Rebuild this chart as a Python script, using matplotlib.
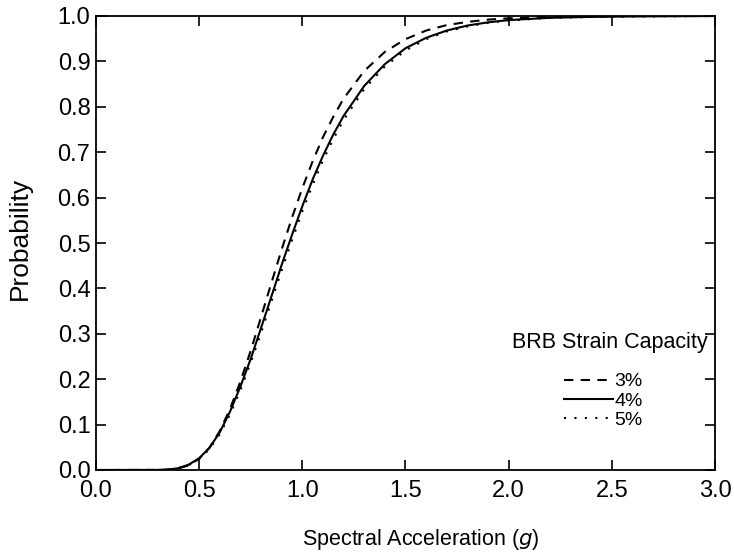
import matplotlib
matplotlib.use("Agg")
import matplotlib.pyplot as plt

plt.rcParams['font.family'] = ['Liberation Sans', 'DejaVu Sans']

sa = [0.0, 0.30, 0.35, 0.40, 0.45, 0.50, 0.55, 0.60, 0.65, 0.70, 0.75, 0.80,
      0.85, 0.90, 0.95, 1.00, 1.05, 1.10, 1.15, 1.20, 1.30, 1.40, 1.50, 1.60,
      1.70, 1.80, 1.90, 2.00, 2.20, 2.40, 2.60, 3.00]

p_3pct = [0.0, 0.0001, 0.001, 0.004, 0.010, 0.025, 0.049, 0.086, 0.135, 0.195,
          0.263, 0.337, 0.412, 0.486, 0.556, 0.621, 0.680, 0.733, 0.778, 0.818,
          0.879, 0.921, 0.949, 0.968, 0.980, 0.987, 0.992, 0.995, 0.998, 0.999,
          1.000, 1.000]

p_4pct = [0.0, 0.0002, 0.001, 0.004, 0.012, 0.026, 0.049, 0.083, 0.129, 0.184,
          0.245, 0.313, 0.382, 0.452, 0.518, 0.581, 0.640, 0.692, 0.739, 0.780,
          0.846, 0.894, 0.929, 0.952, 0.968, 0.979, 0.986, 0.991, 0.996, 0.998,
          0.999, 1.000]

p_5pct = [0.0, 0.0002, 0.001, 0.004, 0.011, 0.024, 0.046, 0.079, 0.123, 0.176,
          0.237, 0.302, 0.371, 0.440, 0.506, 0.570, 0.628, 0.682, 0.729, 0.771,
          0.839, 0.889, 0.924, 0.949, 0.966, 0.977, 0.985, 0.990, 0.996, 0.998,
          0.999, 1.000]

labels = ['3%', '4%', '5%']
xticks = [0.0, 0.5, 1.0, 1.5, 2.0, 2.5, 3.0]
yticks = [0.0, 0.1, 0.2, 0.3, 0.4, 0.5, 0.6, 0.7, 0.8, 0.9, 1.0]

fig = plt.figure(figsize=(7.34, 5.58), dpi=100)
ax = fig.add_axes([96/734, 1-470/558, (715-96)/734, (470-16)/558])

ax.plot(sa, p_3pct, color='black', lw=1.5, linestyle=(0, (4.5, 3.5)), label=labels[0])
ax.plot(sa, p_4pct, color='black', lw=1.5, linestyle='-', label=labels[1])
ax.plot(sa, p_5pct, color='black', lw=1.5, linestyle=(0, (1, 4)), label=labels[2])

ax.set_xlim(0, 3.0)
ax.set_ylim(0, 1.0)
ax.set_xticks(xticks)
ax.set_yticks(yticks)
ax.set_xticklabels([f"{v:.1f}" for v in xticks])
ax.set_yticklabels([f"{v:.1f}" for v in yticks])
ax.tick_params(direction='in', length=7, width=1.2, top=True, right=True,
               labelsize=17, pad=4, colors='black')
ax.tick_params(axis='x', pad=7)
for s in ax.spines.values():
    s.set_linewidth(1.3)

ax.set_xlabel('Spectral Acceleration ($g$)', fontsize=15.5)
ax.set_ylabel('Probability', fontsize=19)
ax.xaxis.set_label_coords(0.525, -0.125)
ax.yaxis.set_label_coords(-0.103, 0.509)

leg = ax.legend(title='BRB Strain Capacity', frameon=False, fontsize=14,
                title_fontsize=15.5, loc='upper right',
                bbox_to_anchor=(1.0, 0.333), handlelength=2.5,
                handletextpad=0.1, labelspacing=0.08, borderpad=0.2)
leg._legend_box.align = 'center'
leg._legend_box.sep = 14
leg.get_title().set_position((6, 0))

fig.savefig('out.png', dpi=100)
